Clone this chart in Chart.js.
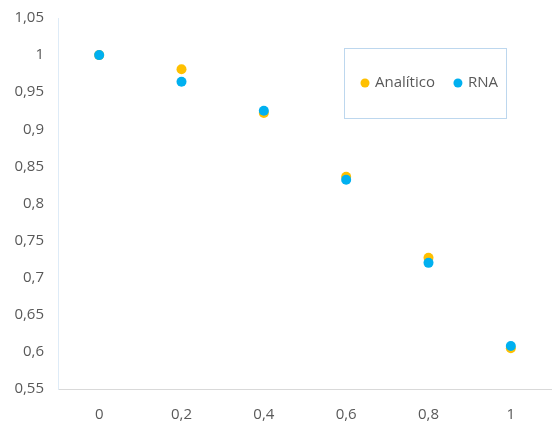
<!DOCTYPE html>
<html>
<head>
<meta charset="utf-8">
<script src="https://cdn.jsdelivr.net/npm/chart.js@4/dist/chart.umd.min.js"></script>
<style>
html,body{margin:0;padding:0;background:#fff;overflow:hidden;}
canvas{display:block;}
</style>
</head>
<body>
<canvas id="c" width="552" height="421" style="width:552px;height:421px"></canvas>
<script>
const xValues = [0, 0.2, 0.4, 0.6, 0.8, 1];
const analitico = [1.0, 0.981, 0.922, 0.836, 0.727, 0.605];
const rna = [1.0, 0.964, 0.925, 0.832, 0.720, 0.608];
const seriesNames = ['Analítico', 'RNA'];
const seriesColors = ['#FFC000', '#00B0F0'];
const xTicks = [0, 0.2, 0.4, 0.6, 0.8, 1];

const fmt = v => String(Math.round(v * 100) / 100).replace('.', ',');
const FONT = "'Open Sans', sans-serif";
const TXT = '#595959';

const legendPlugin = {
  id: 'boxLegend',
  afterDraw(chart) {
    const ctx = chart.ctx;
    const x0 = 344.5, y0 = 48.5, w = 162, h = 70;
    ctx.save();
    ctx.strokeStyle = '#BDD7EE';
    ctx.lineWidth = 1;
    ctx.strokeRect(x0, y0, w, h);
    ctx.font = '15px ' + FONT;
    ctx.textBaseline = 'middle';
    const cy = 83;
    let x = 365;
    chart.data.datasets.slice().sort((a,b)=>a.legendIndex-b.legendIndex).forEach(ds => {
      ctx.fillStyle = ds.backgroundColor;
      ctx.beginPath();
      ctx.arc(x, cy, 4.5, 0, Math.PI * 2);
      ctx.fill();
      ctx.fillStyle = TXT;
      ctx.fillText(ds.label, x + 10, cy);
      x += 10 + ctx.measureText(ds.label).width + 23;
    });
    ctx.restore();
  }
};

new Chart(document.getElementById('c'), {
  type: 'scatter',
  data: {
    datasets: [
      {
        label: seriesNames[0], legendIndex: 0, order: 1,
        data: xValues.map((x, i) => ({x, y: analitico[i]})),
        backgroundColor: seriesColors[0], borderColor: seriesColors[0],
        pointRadius: 5, pointHoverRadius: 5, borderWidth: 0
      },
      {
        label: seriesNames[1], legendIndex: 1, order: 0,
        data: xValues.map((x, i) => ({x, y: rna[i]})),
        backgroundColor: seriesColors[1], borderColor: seriesColors[1],
        pointRadius: 5, pointHoverRadius: 5, borderWidth: 0
      }
    ]
  },
  options: {
    responsive: false,
    maintainAspectRatio: false,
    devicePixelRatio: 1,
    animation: false,
    layout: { autoPadding: false, padding: { top: 18, right: 0, left: 0, bottom: 0 } },
    plugins: { legend: { display: false }, tooltip: { enabled: false } },
    scales: {
      x: {
        type: 'linear', min: -0.1, max: 1.1,
        afterBuildTicks: s => { s.ticks = xTicks.map(v => ({value: v})); },
        afterFit: s => { s.height = 32; s.paddingLeft = 0; s.paddingRight = 0; },
        grid: { display: false, drawTicks: false },
        border: { display: true, color: '#D9D9D9', width: 1 },
        ticks: { callback: v => fmt(v), color: TXT, font: { family: FONT, size: 15 }, padding: 17, maxRotation: 0 }
      },
      y: {
        min: 0.55, max: 1.05,
        afterBuildTicks: s => {
          const t = [];
          for (let i = 0; i <= 10; i++) t.push({value: Math.round((0.55 + i * 0.05) * 100) / 100});
          s.ticks = t;
        },
        afterFit: s => { s.width = 58; s.paddingTop = 0; s.paddingBottom = 0; },
        grid: { display: false, drawTicks: false },
        border: { display: true, color: '#DEEBF7', width: 1 },
        ticks: { callback: v => fmt(v), color: TXT, font: { family: FONT, size: 15 }, padding: 14 }
      }
    }
  },
  plugins: [legendPlugin]
});
</script>
</body>
</html>
